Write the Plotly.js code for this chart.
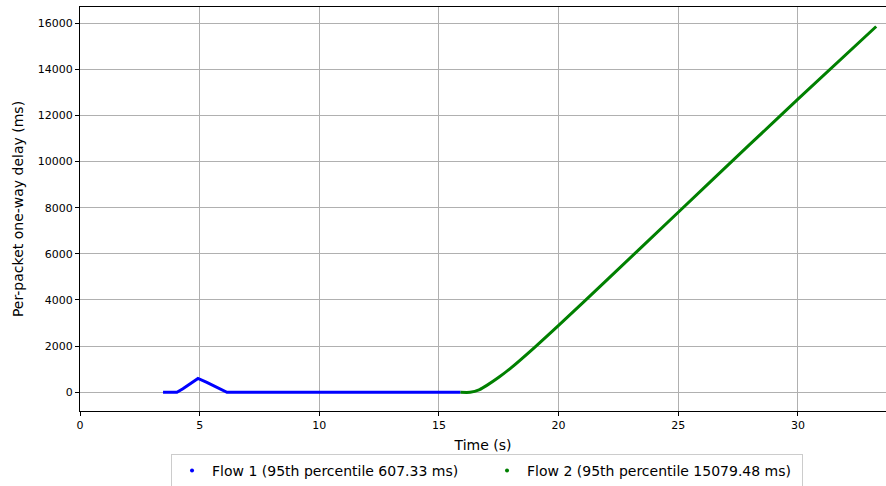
<!DOCTYPE html>
<html>
<head>
<meta charset="utf-8">
<script src="https://cdn.plot.ly/plotly-3.0.1.min.js"></script>
<style>html,body{margin:0;padding:0;background:#fff;}</style>
</head>
<body>
<div id="chart" style="width:886px;height:486px;"></div>
<script>
// Flow 1 (blue) key points
const flow1Time  = [3.47, 4.05, 4.3, 4.6, 4.93, 5.3, 5.7, 6.14, 8, 10, 12, 14, 15.9];
const flow1Delay = [0, 0, 150, 380, 600, 430, 230, 0, 0, 0, 0, 0, 0];
// Flow 2 (green) key points
const flow2Time  = [15.9, 16.3, 16.7, 17, 17.5, 18, 19, 20, 22, 25, 28, 30, 33.27];
const flow2Delay = [0, 0, 120, 300, 650, 1050, 1950, 2900, 4850, 7800, 10750, 12700, 15850];
const legendNames = ["Flow 1 (95th percentile 607.33 ms)", "Flow 2 (95th percentile 15079.48 ms)"];
const colors = ["#0000ff", "#008000"];

const traces = [
  {x: flow1Time, y: flow1Delay, mode: "lines", line: {color: colors[0], width: 3}, showlegend: false, hoverinfo: "skip"},
  {x: flow2Time, y: flow2Delay, mode: "lines", line: {color: colors[1], width: 3, shape: "spline", smoothing: 0.6}, showlegend: false, hoverinfo: "skip"},
  {x: [null], y: [null], mode: "markers", marker: {color: colors[0], size: 4}, name: legendNames[0]},
  {x: [null], y: [null], mode: "markers", marker: {color: colors[1], size: 4}, name: legendNames[1]}
];

const layout = {
  width: 886, height: 486,
  margin: {l: 80, r: 0, t: 7, b: 75, autoexpand: false},
  paper_bgcolor: "#fff", plot_bgcolor: "#fff",
  font: {family: "DejaVu Sans", size: 11, color: "#000"},
  showlegend: true,
  xaxis: {
    range: [0, 33.68], tickvals: [0, 5, 10, 15, 20, 25, 30],
    showgrid: true, gridcolor: "#b0b0b0", gridwidth: 1, zeroline: false,
    showline: true, linecolor: "#000", linewidth: 1, mirror: true,
    ticks: "outside", ticklen: 4, tickcolor: "#000",
    title: {text: "Time (s)", font: {size: 14}, standoff: 8}
  },
  yaxis: {
    range: [-810, 16694], tickvals: [0, 2000, 4000, 6000, 8000, 10000, 12000, 14000, 16000],
    tickformat: "d",
    showgrid: true, gridcolor: "#b0b0b0", gridwidth: 1, zeroline: false,
    showline: true, linecolor: "#000", linewidth: 1, mirror: true,
    ticks: "outside", ticklen: 4, tickcolor: "#000",
    title: {text: "Per-packet one-way delay (ms)", font: {size: 14}, standoff: 10}
  },
  legend: {
    orientation: "h", x: 0.505, xanchor: "center", y: -0.106, yanchor: "top",
    bordercolor: "#cccccc", borderwidth: 1, font: {size: 14},
    itemwidth: 30, entrywidth: 270
  }
};
Plotly.newPlot("chart", traces, layout, {displayModeBar: false, staticPlot: true});
</script>
</body>
</html>
